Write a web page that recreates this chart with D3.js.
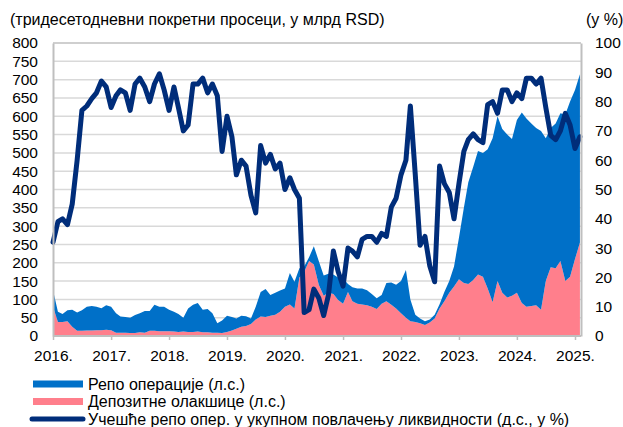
<!DOCTYPE html>
<html>
<head>
<meta charset="utf-8">
<script src="https://cdn.jsdelivr.net/npm/d3@7"></script>
<style>
  body { margin: 0; background: #fff; }
  svg text { font-family: "Liberation Sans", Arial, sans-serif; fill: #000; }
</style>
</head>
<body>
<svg id="chart" width="623" height="427"></svg>
<script>
'use strict';

// monthly averages, Jan 2016 - Feb 2025
var startMonth = new Date(2016, 0, 1);
var endMonth = new Date(2025, 2, 1);

// Депозитне олакшице (млрд RSD)
var depositValues = [
  80, 38, 38, 40, 25, 14, 14, 15, 15, 16, 16, 17,
  16, 9, 9, 9, 8, 8, 10, 9, 14, 14, 13, 13,
  13, 12, 11, 12, 11, 11, 12, 10, 10, 9, 9, 8,
  11, 15, 20, 25, 27, 33, 45, 53, 52, 55, 58, 66,
  80, 86, 75, 160, 175, 205, 195, 140, 110, 118, 115, 98,
  88, 120, 95, 88, 86, 84, 80, 74, 88, 95, 85, 75,
  62, 50, 40, 38, 35, 30, 37, 48, 75, 95, 118, 135,
  155, 145, 142, 153, 168, 162, 130, 92, 150, 118, 105, 110,
  118, 90, 80, 82, 84, 72, 150, 188, 185, 205, 150, 162,
  210, 255
];

// Репо операције (млрд RSD)
var repoValues = [
  45, 28, 22, 30, 47, 50, 56, 65, 67, 64, 60, 67,
  64, 53, 44, 43, 42, 49, 52, 59, 54, 71, 67, 67,
  59, 54, 49, 38, 64, 74, 78, 62, 64, 53, 26, 34,
  44, 37, 28, 30, 27, 15, 35, 67, 76, 57, 60, 58,
  50, 86, 73, 25, 15, 10, 50, 65, 55, 52, 53, 62,
  69, 22, 38, 42, 44, 41, 35, 29, 24, 50, 61, 65,
  88, 130, 60, 20, 13, 10, 8, 10, 12, 25, 32, 55,
  113, 205, 278, 309, 337, 338, 380, 448, 450, 447, 445, 428,
  472, 520, 514, 498, 484, 488, 390, 380, 395, 403, 455, 478,
  462, 460
];

// Учешће репо опер. у укупном повлачењу ликвидности (%)
var repoShare = [
  32, 39, 40, 38, 45, 60, 77, 78.5, 81, 83, 87, 85,
  78, 82, 84, 83, 77, 86, 88, 85, 80, 86, 89.5, 84,
  77, 85, 78, 70, 72, 86, 86, 88, 83, 86, 82, 63,
  75, 68, 55, 60, 58, 48, 42, 65, 59, 62, 57, 59,
  50, 54, 50, 47, 8, 9, 16, 13, 7, 14, 29, 22,
  17, 30, 29, 27, 33, 34, 34, 32, 35, 34, 44, 47,
  55, 60, 78.5, 55, 31, 34, 24, 18.5, 58, 52, 49, 40,
  52, 63, 67, 69, 67, 66, 79, 80, 76, 84, 84, 80,
  83, 81, 88, 88, 86, 88, 78, 68.5, 67, 70, 76, 72,
  64, 68
];

var leftTicks = d3.range(0, 801, 50);
var rightTicks = d3.range(0, 101, 10);
var yearTicks = d3.timeYear.range(new Date(2016, 0, 1), new Date(2026, 0, 1));

var titleLeft = '(тридесетодневни покретни просеци, у млрд RSD)';
var titleRight = '(у %)';
var legendLabels = ['Репо операције (л.с.)', 'Депозитне олакшице (л.с.)', 'Учешће репо опер. у укупном повлачењу ликвидности (д.с., у %)'];

var colors = { repo: '#0070c8', deposit: '#ff7f8c', share: '#002d7a', grid: '#d9d9d9', axis: '#bfbfbf' };

var months = d3.timeMonth.range(startMonth, endMonth);
var data = months.map(function(d, i) {
  return { date: d, deposit: depositValues[i], repo: repoValues[i], share: repoShare[i] };
});

var plot = { left: 53, right: 581, top: 43, bottom: 336 };

var x = d3.scaleTime()
  .domain([new Date(2016, 0, 1), new Date(2025, 0, 1)])
  .range([plot.left, 575]);

var y = d3.scaleLinear()
  .domain([0, 800])
  .range([plot.bottom, plot.top]);

var yR = d3.scaleLinear()
  .domain([0, 100])
  .range([plot.bottom, plot.top]);

var svg = d3.select('#chart');

// grid
svg.append('g')
  .selectAll('line')
  .data(leftTicks.filter(function(d) { return d > 0; }))
  .enter().append('line')
    .attr('x1', plot.left)
    .attr('x2', plot.right)
    .attr('y1', function(d) { return y(d); })
    .attr('y2', function(d) { return y(d); })
    .attr('stroke', function(d) { return d === 800 ? colors.axis : colors.grid; })
    .attr('stroke-width', 1.5);

// stacked areas: deposit at the bottom, repo on top
var series = d3.stack().keys(['deposit', 'repo'])(data);

var area = d3.area()
  .x(function(d) { return x(d.data.date); })
  .y0(function(d) { return y(d[0]); })
  .y1(function(d) { return y(d[1]); });

svg.append('g')
  .selectAll('path')
  .data(series)
  .enter().append('path')
    .attr('fill', function(d) { return d.key === 'repo' ? colors.repo : colors.deposit; })
    .attr('d', area);

// share line on the right axis
var line = d3.line()
  .x(function(d) { return x(d.date); })
  .y(function(d) { return yR(d.share); });

svg.append('path')
  .datum(data)
  .attr('fill', 'none')
  .attr('stroke', colors.share)
  .attr('stroke-width', 5)
  .attr('stroke-linejoin', 'round')
  .attr('stroke-linecap', 'round')
  .attr('d', line);

// axes
var leftAxis = svg.append('g')
  .attr('transform', 'translate(' + plot.left + ',0)')
  .call(d3.axisLeft(y).tickValues(leftTicks).tickSize(0).tickPadding(15));

var rightAxis = svg.append('g')
  .attr('transform', 'translate(' + plot.right + ',0)')
  .call(d3.axisRight(yR).tickValues(rightTicks).tickSize(0).tickPadding(14));

var bottomAxis = svg.append('g')
  .attr('transform', 'translate(0,' + plot.bottom + ')')
  .call(d3.axisBottom(x).tickValues(yearTicks.slice(0, 10)).tickFormat(d3.timeFormat('%Y.')).tickSize(4).tickPadding(10));

bottomAxis.select('.domain').attr('d', 'M' + plot.left + ',0H' + plot.right);

[leftAxis, rightAxis, bottomAxis].forEach(function(a) {
  a.selectAll('.domain').attr('stroke', colors.axis).attr('stroke-width', 2);
  a.selectAll('.tick line').attr('stroke', colors.axis).attr('stroke-width', 1.5);
  a.selectAll('text').attr('font-size', 15.5).attr('font-family', '"Liberation Sans", Arial, sans-serif');
});

// titles
svg.append('text')
  .attr('x', 10)
  .attr('y', 25)
  .attr('font-size', 16)
  .text(titleLeft);

svg.append('text')
  .attr('x', 586)
  .attr('y', 25)
  .attr('font-size', 16)
  .text(titleRight);

// legend
var legend = svg.append('g');
var legendY = [384, 401.5, 419];

legend.append('rect').attr('x', 33).attr('y', legendY[0] - 3.5).attr('width', 50).attr('height', 7).attr('fill', colors.repo);
legend.append('rect').attr('x', 33).attr('y', legendY[1] - 3.5).attr('width', 50).attr('height', 7).attr('fill', colors.deposit);
legend.append('line')
  .attr('x1', 32).attr('x2', 83)
  .attr('y1', legendY[2]).attr('y2', legendY[2])
  .attr('stroke', colors.share).attr('stroke-width', 5).attr('stroke-linecap', 'round');

legend.selectAll('text')
  .data(legendLabels)
  .enter().append('text')
    .attr('x', 88)
    .attr('y', function(d, i) { return legendY[i]; })
    .attr('dy', '0.35em')
    .attr('font-size', 16)
    .text(function(d) { return d; });
</script>
</body>
</html>
